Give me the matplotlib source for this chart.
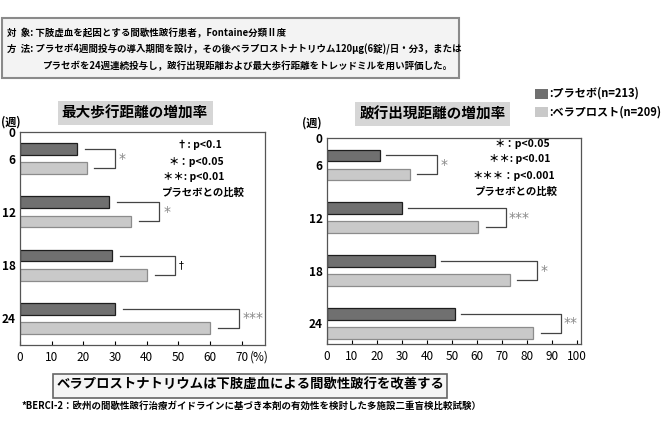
import numpy as np
import matplotlib
matplotlib.use('Agg')
import matplotlib.pyplot as plt
from matplotlib.patches import Rectangle

plt.rcParams['font.family'] = ['Noto Sans CJK JP', 'DejaVu Sans']

# データ (増加率 %)
weeks = ['0', '6', '12', '18', '24']
max_walk_placebo = [18, 28, 29, 30]
max_walk_bera = [21, 35, 40, 60]
max_walk_marks = ['*', '*', '†', '***']
claud_placebo = [21, 30, 43, 51]
claud_bera = [33, 60.5, 73, 82.5]
claud_marks = ['*', '***', '*', '**']

W, H = 670, 428
fig = plt.figure(figsize=(W / 100, H / 100), dpi=100)


def fx(x):
    return x / W


def fy(y):
    return 1 - y / H


def px_axes(x0, y0, x1, y1):
    return fig.add_axes([fx(x0), fy(y1), (x1 - x0) / W, (y1 - y0) / H])


def draw_chart(ax, placebo, bera, marks, xmax, xticks, ylim, gap, low_off):
    pos = np.arange(1, len(placebo) + 1)
    ax.barh(pos - 0.18, placebo, height=0.22, color='#707070',
            edgecolor='#1e1e1e', linewidth=0.9)
    ax.barh(pos + 0.18, bera, height=0.22, color='#c9c9c9',
            edgecolor='#8c8c8c', linewidth=0.9)
    for i, (p, b, m) in enumerate(zip(placebo, bera, marks)):
        y = pos[i]
        bx = max(p, b) + gap
        ax.plot([p + 2.5, bx, bx, b + low_off],
                [y - 0.18, y - 0.18, y + 0.18, y + 0.18],
                color='#444', lw=0.9)
        col = 'black' if m == '†' else '#888'
        ax.text(bx + 1.2, y, m, color=col, fontsize=10 if m != '†' else 7,
                ha='left', va='center', family='DejaVu Sans')
    ax.set_xlim(0, xmax)
    ax.set_ylim(*ylim)
    ax.set_xticks(xticks)
    ax.set_yticks([ylim[1], 1, 2, 3, 4])
    ax.set_yticklabels(weeks, fontsize=8.5, fontweight='bold')
    ax.tick_params(axis='x', direction='in', length=3, labelsize=8.5, pad=4)
    ax.tick_params(axis='y', length=0, pad=3)
    for s in ax.spines.values():
        s.set_color('#555')
        s.set_linewidth(0.9)


# 左: 最大歩行距離
ax1 = px_axes(20, 132, 265, 345)
draw_chart(ax1, max_walk_placebo, max_walk_bera, max_walk_marks,
           77.3, range(0, 71, 10), (4.5, 0.5), 9, 2.5)
ax1.annotate('(%)', xy=(72.5, 0), xycoords=ax1.get_xaxis_transform(),
             xytext=(0, -4), textcoords='offset points',
             fontsize=8.5, va='top', ha='left')

# 右: 跛行出現距離
ax2 = px_axes(327, 138, 581, 344)
draw_chart(ax2, claud_placebo, claud_bera, claud_marks,
           101.5, range(0, 101, 10), (4.39, 0.49), 11, 3)

# タイトル
bb = dict(boxstyle='square,pad=0.3', fc='#d6d6d6', ec='none')
fig.text(fx(135), fy(113), '最大歩行距離の増加率', fontsize=10.5,
         fontweight='bold', ha='center', va='center', bbox=bb)
fig.text(fx(433), fy(114), '跛行出現距離の増加率', fontsize=10.5,
         fontweight='bold', ha='center', va='center', bbox=bb)
fig.text(fx(1), fy(122), '(週)', fontsize=8, fontweight='bold', va='center')
fig.text(fx(302), fy(123), '(週)', fontsize=8, fontweight='bold', va='center')

# 有意差の凡例
kw = dict(fontsize=7.5, fontweight='bold', va='center')
fig.text(fx(222), fy(145), '†: p<0.1', ha='right', **kw)
fig.text(fx(224), fy(162), '＊：p<0.05', ha='right', **kw)
fig.text(fx(224), fy(177), '＊＊: p<0.01', ha='right', **kw)
fig.text(fx(162), fy(193), 'プラセボとの比較', ha='left', **kw)
fig.text(fx(550), fy(144), '＊：p<0.05', ha='right', **kw)
fig.text(fx(550), fy(159), '＊＊: p<0.01', ha='right', **kw)
fig.text(fx(555), fy(176), '＊＊＊：p<0.001', ha='right', **kw)
fig.text(fx(475), fy(192), 'プラセボとの比較', ha='left', **kw)

# 群の凡例
fig.patches.append(Rectangle((fx(535), fy(99)), 13 / W, 10 / H,
                             transform=fig.transFigure, fc='#707070', ec='none'))
fig.patches.append(Rectangle((fx(535), fy(117)), 13 / W, 10 / H,
                             transform=fig.transFigure, fc='#c9c9c9', ec='none'))
kw_leg = dict(fontsize=8.0, fontweight='bold', va='center')
fig.text(fx(549), fy(93), ':プラセボ(n=213)', **kw_leg)
fig.text(fx(549), fy(112), ':ベラプロスト(n=209)', **kw_leg)

# 上の説明ボックス
fig.patches.append(Rectangle((fx(2), fy(78)), 457 / W, 60 / H,
                             transform=fig.transFigure, fc='#f3f3f3',
                             ec='#8a8a8a', lw=1.5))
kw_box = dict(fontsize=6.8, fontweight='bold', va='center')
fig.text(fx(7), fy(33), '対  象: 下肢虚血を起因とする間歇性跛行患者，Fontaine分類Ⅱ度', **kw_box)
fig.text(fx(7), fy(49), '方  法: プラセボ4週間投与の導入期間を設け，その後ベラプロストナトリウム120μg(6錠)/日・分3，または', **kw_box)
fig.text(fx(42), fy(66), 'プラセボを24週連続投与し，跛行出現距離および最大歩行距離をトレッドミルを用い評価した。', **kw_box)

# 下の結論ボックス
fig.patches.append(Rectangle((fx(53), fy(398)), 394 / W, 24 / H,
                             transform=fig.transFigure, fc='#f5f5f5',
                             ec='#666', lw=1.2))
fig.text(fx(250), fy(385), 'ベラプロストナトリウムは下肢虚血による間歇性跛行を改善する',
         fontsize=9.6, fontweight='bold', ha='center', va='center')
fig.text(fx(22), fy(406), '*BERCI-2：欧州の間歇性跛行治療ガイドラインに基づき本剤の有効性を検討した多施設二重盲検比較試験）',
         fontsize=6.8, fontweight='bold', va='center')

fig.savefig('out.png', dpi=100)
